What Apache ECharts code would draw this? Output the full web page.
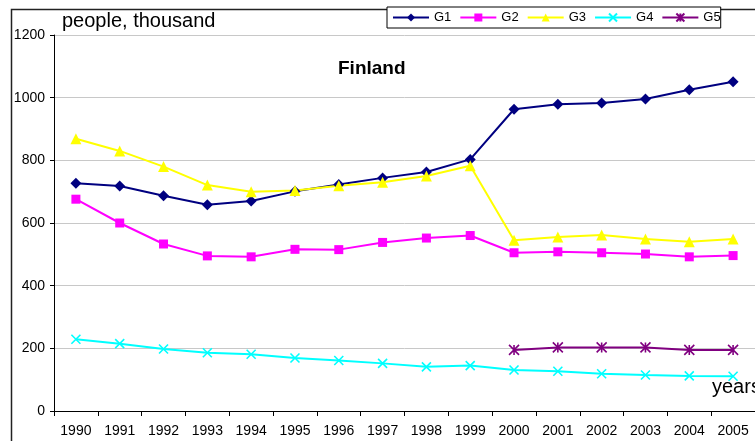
<!DOCTYPE html>
<html>
<head>
<meta charset="utf-8">
<script src="https://cdn.jsdelivr.net/npm/echarts@6/dist/echarts.min.js"></script>
<style>
  html, body { margin: 0; padding: 0; background: #fff; }
  #chart { width: 755px; height: 441px; }
</style>
</head>
<body>
<div id="chart"></div>
<script>
// data
const years = ['1990','1991','1992','1993','1994','1995','1996','1997','1998','1999','2000','2001','2002','2003','2004','2005']
const g1 = [727, 718, 687, 658, 670, 701, 723, 744, 763, 803, 963, 979, 983, 996, 1025, 1051]
const g2 = [676, 600, 533, 495, 492, 516, 515, 538, 552, 560, 505, 508, 505, 501, 492, 496]
const g3 = [869, 830, 780, 721, 700, 704, 719, 730, 750, 783, 545, 555, 562, 549, 540, 549]
const g4 = [229, 215, 198, 186, 181, 169, 161, 152, 141, 145, 131, 127, 119, 115, 112, 111]
const g5 = ['-', '-', '-', '-', '-', '-', '-', '-', '-', '-', 195, 203, 203, 203, 195, 195]
const yTicks = [0, 200, 400, 600, 800, 1000, 1200]

const font = 'Liberation Sans, Arial, sans-serif'
const crossPath = 'path://M0,0L10,10M10,0L0,10'
const starPath = 'path://M0,0L10,10M10,0L0,10M5,0L5,10'

function line(name, data, color, symbol, size, stroke) {
  return {
    name: name,
    type: 'line',
    data: data,
    symbol: symbol,
    symbolSize: size,
    showAllSymbol: true,
    lineStyle: { color: color, width: 2 },
    itemStyle: stroke
      ? { color: 'none', borderColor: color, borderWidth: 1.6 }
      : { color: color, borderColor: color, borderWidth: 0 },
    emphasis: { disabled: true },
    animation: false
  }
}

let myChart = echarts.init(document.getElementById('chart'))
myChart.setOption({
  backgroundColor: '#fff',
  animation: false,
  grid: { left: 54, top: 35, width: 705, height: 376, containLabel: false },
  xAxis: {
    type: 'category',
    data: years,
    boundaryGap: true,
    axisLine: { lineStyle: { color: '#000', width: 1 } },
    axisTick: { show: true, length: 5, lineStyle: { color: '#000' } },
    axisLabel: { color: '#000', fontFamily: font, fontSize: 14, margin: 13, interval: 0 },
    splitLine: { show: false }
  },
  yAxis: {
    type: 'value',
    min: yTicks[0],
    max: yTicks[yTicks.length - 1],
    interval: 200,
    axisLine: { show: true, lineStyle: { color: '#000', width: 1 } },
    axisTick: { show: true, length: 4, lineStyle: { color: '#000' } },
    axisLabel: { color: '#000', fontFamily: font, fontSize: 14, margin: 9, formatter: v => String(v) },
    splitLine: { show: true, lineStyle: { color: '#c8c8c8', width: 1 } }
  },
  legend: {
    left: 387,
    top: 7,
    itemWidth: 36,
    itemHeight: 10,
    itemGap: 8,
    padding: [4, 0, 4, 5],
    borderColor: '#000',
    borderWidth: 1,
    backgroundColor: '#fff',
    textStyle: { color: '#000', fontFamily: font, fontSize: 13 },
    data: ['G1', 'G2', 'G3', 'G4', 'G5']
  },
  graphic: [
    { type: 'rect', left: 9, top: 7, shape: { width: 800, height: 500 },
      style: { fill: 'none', stroke: '#222', lineWidth: 1.5 }, z: -1 },
    { type: 'text', left: 62, top: 11,
      style: { text: 'people, thousand', fill: '#000', font: '20px ' + font } },
    { type: 'text', left: 338, top: 59,
      style: { text: 'Finland', fill: '#000', font: 'bold 19px ' + font } },
    { type: 'text', left: 712, top: 377,
      style: { text: 'years', fill: '#000', font: '20px ' + font } }
  ],
  series: [
    line('G1', g1, '#000080', 'diamond', 11, false),
    line('G2', g2, '#ff00ff', 'rect', 9, false),
    line('G3', g3, '#ffff00', 'triangle', 11, false),
    line('G4', g4, '#00ffff', crossPath, 9, true),
    line('G5', g5, '#800080', starPath, 10, true)
  ]
})
</script>
</body>
</html>
